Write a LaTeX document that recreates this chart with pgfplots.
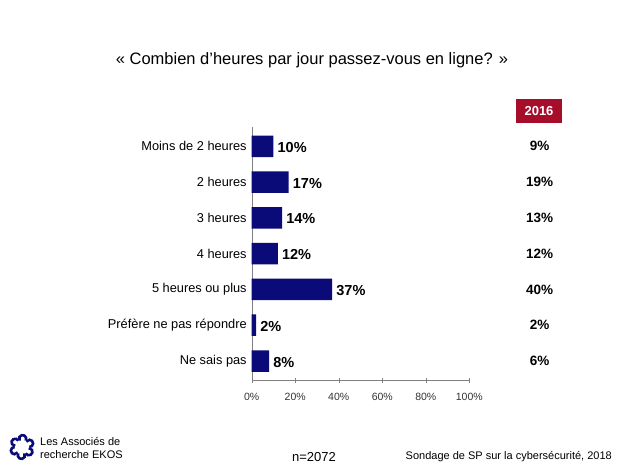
\documentclass[border=0pt]{standalone}
\usepackage{pgfplots}
\pgfplotsset{compat=1.18}
\usepackage{fontspec}
\setmainfont{Liberation Sans}
\definecolor{barblue}{RGB}{10,10,120}
\definecolor{darkred}{RGB}{165,13,43}
\definecolor{axgray}{RGB}{128,128,128}
\begin{document}
\begin{tikzpicture}[x=1pt,y=1pt]
\path (0,0) rectangle (624,468);
\node[font=\fontsize{16.5}{18}\selectfont] at (312,408) {« Combien d'heures par jour passez-vous en ligne? »};
\begin{axis}[
  at={(251.7pt,87.3pt)}, anchor=south west,
  scale only axis, width=217.6pt, height=253.7pt,
  xmin=0, xmax=100, ymin=-0.54, ymax=6.55,
  y dir=reverse,
  xbar, bar width=21.5pt,
  clip=false,
  axis x line*=bottom, axis y line*=left,
  axis line style={axgray},
  xtick={0,20,40,60,80,100},
  xticklabel={\pgfmathprintnumber{\tick}\%},
  /pgf/number format/assume math mode=true,
  xticklabel style={font=\fontsize{10.5}{12}\selectfont, text=black!80, yshift=-6pt},
  major tick length=5pt, tick align=center,
  x tick style={axgray},
  ytick={0,1,2,3,4,5,6},
  yticklabels={Moins de 2 heures,2 heures,3 heures,4 heures,5 heures ou plus,Préfère ne pas répondre,Ne sais pas},
  yticklabel style={font=\fontsize{12.8}{14}\selectfont, xshift=1pt},
  y tick style={draw=none},
  nodes near coords={\pgfmathprintnumber{\pgfplotspointmeta}\%},
  nodes near coords style={font=\bfseries\fontsize{14.5}{16}\selectfont, /pgf/number format/assume math mode=true, inner sep=4pt, yshift=-1pt},
]
\addplot[fill=barblue, draw=none] coordinates {(10,0) (17,1) (14,2) (12,3) (37,4) (2,5) (8,6)};
\end{axis}
\begin{axis}[
  at={(251.7pt,87.3pt)}, anchor=south west,
  scale only axis, width=217.6pt, height=253.7pt,
  xmin=0, xmax=100, ymin=-0.54, ymax=6.55,
  y dir=reverse, clip=false, hide axis,
]
\addplot[only marks, mark=none,
  nodes near coords={\pgfmathprintnumber{\pgfplotspointmeta}\%},
  nodes near coords align={center},
  nodes near coords style={font=\bfseries\fontsize{13.5}{15}\selectfont, /pgf/number format/assume math mode=true},
  point meta=explicit] coordinates {(132.3,0) [9] (132.3,1) [19] (132.3,2) [13] (132.3,3) [12] (132.3,4) [40] (132.3,5) [2] (132.3,6) [6]};
\end{axis}
\node[fill=darkred, text=white, font=\bfseries\fontsize{13}{14}\selectfont, minimum width=46pt, minimum height=23.5pt, inner sep=0pt] at (539,357) {2016};
% logo
\begin{scope}[shift={(22,21)}]
\foreach \a in {0,60,...,300}{
  \draw[barblue, line width=2.6pt] (\a:7.5) arc[start angle=\a-90, end angle=\a+150, radius=3.6];
}
\end{scope}
\node[anchor=west, align=left, font=\fontsize{11}{13}\selectfont, inner sep=0pt] at (40,19.5) {Les Associés de\\recherche EKOS};
\node[font=\fontsize{13}{15}\selectfont] at (314,11) {n=2072};
\node[anchor=east, font=\fontsize{11}{14}\selectfont, inner sep=0pt] at (612,11) {Sondage de SP sur la cybersécurité, 2018};
\end{tikzpicture}
\end{document}
